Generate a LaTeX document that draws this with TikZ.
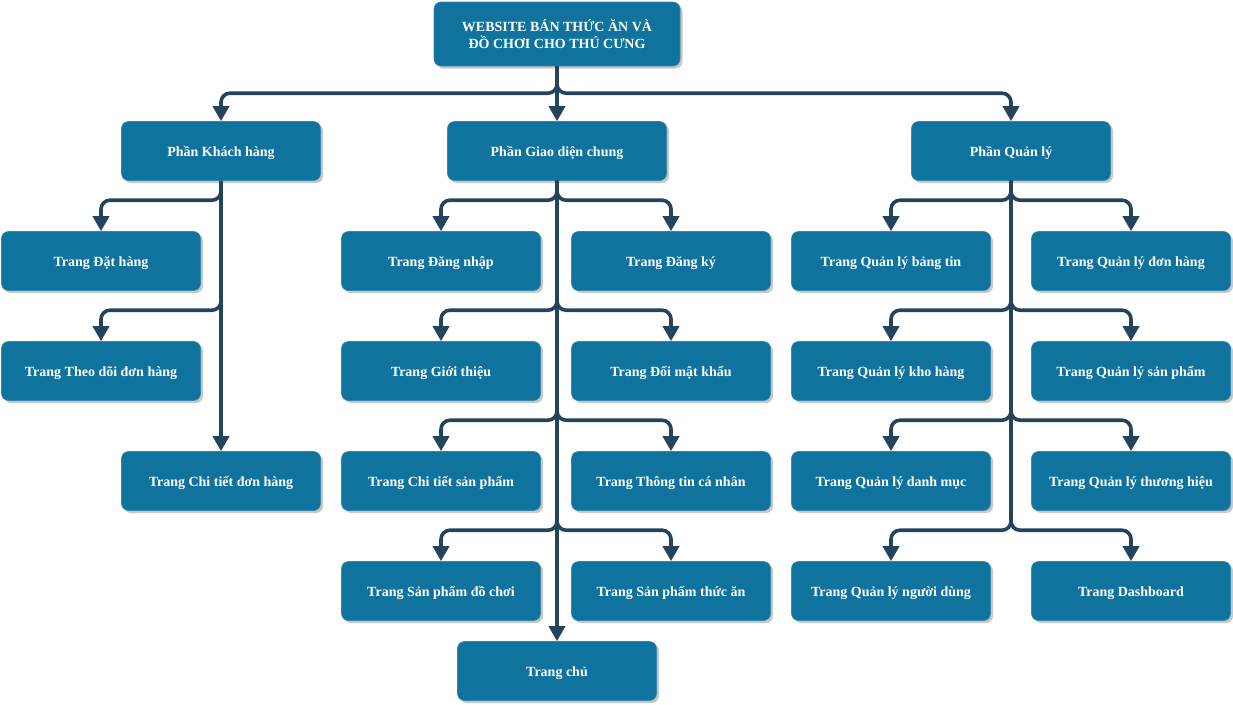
\documentclass[tikz,border=0pt]{standalone}
\usepackage{fontspec}
\setmainfont{Liberation Serif}
\usetikzlibrary{arrows.meta,shadows}
\definecolor{boxblue}{HTML}{10739E}
\definecolor{linkblue}{HTML}{23445D}
\begin{document}
\begin{tikzpicture}[x=1pt,y=-1pt,
  box/.style={rectangle, rounded corners=7pt, fill=boxblue, draw=boxblue!85!white, line width=0.6pt,
    text=white, font=\bfseries\fontsize{14}{17}\selectfont, minimum width=199pt, minimum height=59pt,
    align=center, inner sep=0pt,
    drop shadow={shadow xshift=2.5pt, shadow yshift=-2.5pt, fill=black!22, opacity=1}},
  page/.style={box, text height=12pt, text depth=2pt},
  link/.style={draw=linkblue, line width=3.6pt, rounded corners=9pt,
    -{Triangle[length=15pt,width=16pt]}}
]
\useasboundingbox (0,0) rectangle (1233,704);

% top level
\node[box, minimum width=246pt, minimum height=64pt] (root) at (557,34) {WEBSITE BÁN THỨC ĂN VÀ\\ĐỒ CHƠI CHO THÚ CƯNG};
\node[page] (kh) at (221,151) {Phần Khách hàng};
\node[page, minimum width=219pt] (gd) at (557,151) {Phần Giao diện chung};
\node[page] (ql) at (1011,151) {Phần Quản lý};

% customer pages
\node[page] (kh1) at (101,261) {Trang Đặt hàng};
\node[page] (kh2) at (101,371) {Trang Theo dõi đơn hàng};
\node[page] (kh3) at (221,481) {Trang Chi tiết đơn hàng};

% common pages
\node[page] (gd1) at (441,261) {Trang Đăng nhập};
\node[page] (gd2) at (671,261) {Trang Đăng ký};
\node[page] (gd3) at (441,371) {Trang Giới thiệu};
\node[page] (gd4) at (671,371) {Trang Đổi mật khẩu};
\node[page] (gd5) at (441,481) {Trang Chi tiết sản phẩm};
\node[page] (gd6) at (671,481) {Trang Thông tin cá nhân};
\node[page] (gd7) at (441,591) {Trang Sản phẩm đồ chơi};
\node[page] (gd8) at (671,591) {Trang Sản phẩm thức ăn};
\node[page] (gd9) at (557,671) {Trang chủ};

% admin pages
\node[page] (ql1) at (891,261) {Trang Quản lý bảng tin};
\node[page] (ql2) at (1131,261) {Trang Quản lý đơn hàng};
\node[page] (ql3) at (891,371) {Trang Quản lý kho hàng};
\node[page] (ql4) at (1131,371) {Trang Quản lý sản phẩm};
\node[page] (ql5) at (891,481) {Trang Quản lý danh mục};
\node[page] (ql6) at (1131,481) {Trang Quản lý thương hiệu};
\node[page] (ql7) at (891,591) {Trang Quản lý người dùng};
\node[page] (ql8) at (1131,591) {Trang Dashboard};

% connectors from the root
\draw[link] (root.south) |- ([yshift=28pt]kh.north) -- (kh.north);
\draw[link] (root.south) -- (gd.north);
\draw[link] (root.south) |- ([yshift=28pt]ql.north) -- (ql.north);

% customer branch
\foreach \c in {kh1,kh2}
  \draw[link] (kh.south) |- ([yshift=31pt]\c.north) -- (\c.north);
\draw[link] (kh.south) -- (kh3.north);

% common branch
\foreach \c in {gd1,gd2,gd3,gd4,gd5,gd6,gd7,gd8}
  \draw[link] (gd.south) |- ([yshift=31pt]\c.north) -- (\c.north);
\draw[link] (gd.south) -- (gd9.north);

% admin branch
\foreach \c in {ql1,ql2,ql3,ql4,ql5,ql6,ql7,ql8}
  \draw[link] (ql.south) |- ([yshift=31pt]\c.north) -- (\c.north);
\end{tikzpicture}
\end{document}
